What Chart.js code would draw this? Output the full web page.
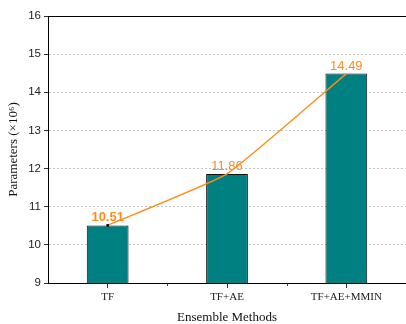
<!DOCTYPE html>
<html>
<head>
<meta charset="utf-8">
<script src="https://cdn.jsdelivr.net/npm/chart.js@4/dist/chart.umd.min.js"></script>
<style>
  html, body { margin: 0; padding: 0; background: #fff; overflow: hidden; }
  #wrap { width: 410px; height: 324px; }
</style>
</head>
<body>
<div id="wrap"><canvas id="paramChart" width="410" height="324"></canvas></div>
<script>
// datos del gráfico
const methods = ['TF', 'TF+AE', 'TF+AE+MMIN'];
const params = [10.51, 11.86, 14.49];
const valueLabels = ['10.51', '11.86', '14.49'];
const boldLabel = [true, false, false];
const yTicks = [9, 10, 11, 12, 13, 14, 15, 16];

const orange = '#ff8c1a';
const teal = '#008080';

// etiquetas de valores sobre la curva + marco superior + ticks menores
const extras = {
  id: 'extras',
  afterDatasetsDraw(chart) {
    const ctx = chart.ctx;
    const area = chart.chartArea;
    const xs = chart.scales.x;

    ctx.save();
    // línea superior del marco
    ctx.strokeStyle = '#000';
    ctx.lineWidth = 1;
    ctx.setLineDash([]);
    ctx.beginPath();
    ctx.moveTo(area.left, area.top + 0.5);
    ctx.lineTo(area.right, area.top + 0.5);
    ctx.stroke();

    // ticks menores entre categorías
    ctx.strokeStyle = '#333';
    for (let i = 0; i < methods.length; i++) {
      const px = Math.round(xs.getPixelForValue(i + 0.5)) + 0.5;
      ctx.beginPath();
      ctx.moveTo(px, area.bottom);
      ctx.lineTo(px, area.bottom + 3);
      ctx.stroke();
    }

    // valores
    const meta = chart.getDatasetMeta(1);
    ctx.fillStyle = orange;
    ctx.textAlign = 'center';
    ctx.textBaseline = 'bottom';
    meta.data.forEach((pt, i) => {
      ctx.font = (boldLabel[i] ? 'bold ' : '') + '13px "Liberation Sans", Arial, sans-serif';
      ctx.fillText(valueLabels[i], pt.x, pt.y - 1);
    });
    ctx.restore();
  }
};

new Chart(document.getElementById('paramChart'), {
  data: {
    labels: methods,
    datasets: [
      {
        type: 'bar',
        data: params,
        backgroundColor: teal,
        borderColor: '#111',
        borderWidth: 1,
        barPercentage: 0.35,
        categoryPercentage: 1,
        order: 2
      },
      {
        type: 'line',
        data: params,
        borderColor: orange,
        borderWidth: 1.4,
        tension: 0.12,
        pointStyle: 'rect',
        pointRadius: [1.8, 0, 0],
        pointBackgroundColor: '#000',
        pointBorderColor: '#000',
        pointBorderWidth: 0,
        order: 1
      }
    ]
  },
  options: {
    responsive: false,
    animation: false,
    layout: { padding: { left: 0, right: 0, top: 16, bottom: 0 } },
    plugins: { legend: { display: false }, tooltip: { enabled: false } },
    scales: {
      x: {
        afterFit: s => { s.height = 41; },
        grid: { display: true, drawOnChartArea: false, tickLength: 5, color: '#333', offset: false },
        border: { color: '#000', width: 1 },
        ticks: { color: '#222', padding: 3, font: { family: '"Liberation Serif", "Times New Roman", serif', size: 11 } },
        title: {
          display: true,
          text: 'Ensemble Methods',
          color: '#111',
          padding: { top: 0, bottom: 0 },
          font: { family: '"Liberation Serif", "Times New Roman", serif', size: 13, lineHeight: 1 }
        }
      },
      y: {
        min: 9,
        max: 16,
        afterFit: s => { s.width = 48; },
        afterBuildTicks: s => { s.ticks = yTicks.map(v => ({ value: v })); },
        grid: {
          color: '#c4c4c4',
          lineWidth: 1,
          tickLength: 4,
          tickColor: '#333'
        },
        border: { color: '#000', width: 1, dash: [2, 2] },
        ticks: { color: '#222', padding: 3, font: { family: '"Liberation Sans", Arial, sans-serif', size: 11.5 } },
        title: {
          display: true,
          text: 'Parameters (×10⁶)',
          color: '#111',
          padding: { top: 7, bottom: 0 },
          font: { family: '"Liberation Serif", "Times New Roman", serif', size: 13, lineHeight: 1 }
        }
      }
    }
  },
  plugins: [extras]
});
</script>
</body>
</html>
